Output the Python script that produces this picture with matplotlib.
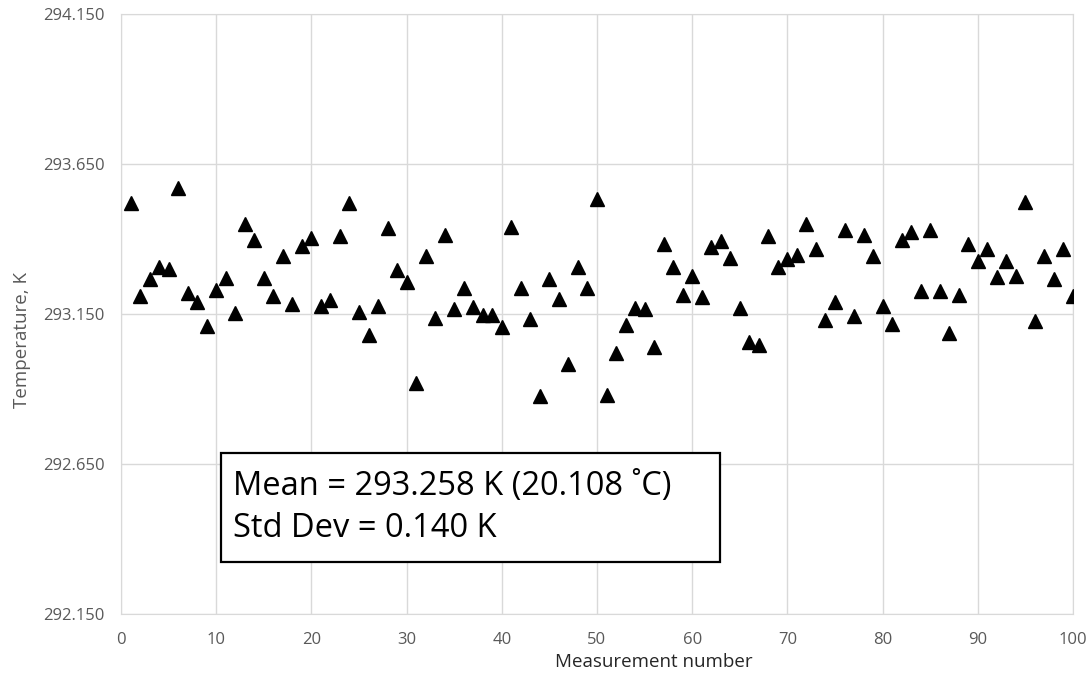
import numpy as np
import matplotlib
matplotlib.use("Agg")
import matplotlib.pyplot as plt
from matplotlib.patches import Rectangle

measurement = np.arange(1, 101)
temperature_k = [
    293.519, 293.211, 293.268, 293.305, 293.301, 293.569, 293.221, 293.191, 293.111, 293.231,
    293.271, 293.154, 293.449, 293.398, 293.271, 293.211, 293.342, 293.184, 293.375, 293.405,
    293.178, 293.198, 293.409, 293.519, 293.158, 293.081, 293.178, 293.435, 293.295, 293.258,
    292.920, 293.342, 293.138, 293.412, 293.168, 293.235, 293.174, 293.148, 293.148, 293.108,
    293.439, 293.238, 293.134, 292.877, 293.265, 293.201, 292.984, 293.305, 293.235, 293.532,
    292.880, 293.021, 293.114, 293.171, 293.168, 293.041, 293.382, 293.308, 293.215, 293.278,
    293.208, 293.372, 293.392, 293.338, 293.171, 293.057, 293.047, 293.409, 293.308, 293.332,
    293.345, 293.449, 293.368, 293.131, 293.191, 293.429, 293.144, 293.412, 293.342, 293.178,
    293.118, 293.398, 293.422, 293.228, 293.429, 293.225, 293.087, 293.215, 293.382, 293.325,
    293.365, 293.275, 293.325, 293.278, 293.522, 293.128, 293.342, 293.265, 293.368, 293.211,
]
y_ticks = [292.150, 292.650, 293.150, 293.650, 294.150]
x_ticks = list(range(0, 101, 10))
stats_lines = ["Mean = 293.258 K (20.108 \u02daC)", "Std Dev = 0.140 K"]

plt.rcParams["font.family"] = ["Open Sans", "DejaVu Sans"]

fig = plt.figure(figsize=(10.89, 6.75), dpi=100)
ax = fig.add_axes([121 / 1089, 1 - 614 / 675, 952 / 1089, 600 / 675])

ax.plot(measurement, temperature_k, linestyle="none", marker="^",
        markersize=10, color="black", zorder=3)

ax.set_xlim(0, 100)
ax.set_ylim(292.150, 294.150)
ax.set_xticks(x_ticks)
ax.set_yticks(y_ticks)
ax.set_yticklabels([f"{v:.3f}" for v in y_ticks])
ax.grid(True, color="#d9d9d9", linewidth=1)
ax.set_axisbelow(True)
for s in ax.spines.values():
    s.set_color("#d9d9d9")
ax.tick_params(length=0, colors="#595959", labelsize=12)
ax.tick_params(axis="y", pad=12)
ax.tick_params(axis="x", pad=13)

ax.set_xlabel("Measurement number", fontsize=13.5, color="#262626")
ax.xaxis.set_label_coords((654 - 121) / 952, (614 - 653) / 600)
ax.set_ylabel("Temperature, K", fontsize=13.5, color="#595959")
ax.yaxis.set_label_coords((31 - 121) / 952, (614 - 340) / 600)

# Stats box
fig.patches.append(Rectangle((221 / 1089, 1 - 562 / 675), 499 / 1089, 109 / 675,
                             transform=fig.transFigure, facecolor="white",
                             edgecolor="black", linewidth=1.6, zorder=5))
for i, line in enumerate(stats_lines):
    fig.text(233 / 1089, 1 - (495 + 42 * i) / 675, line, fontsize=23.5,
             color="black", va="baseline", ha="left", zorder=6)

fig.savefig("out.png", dpi=100)
